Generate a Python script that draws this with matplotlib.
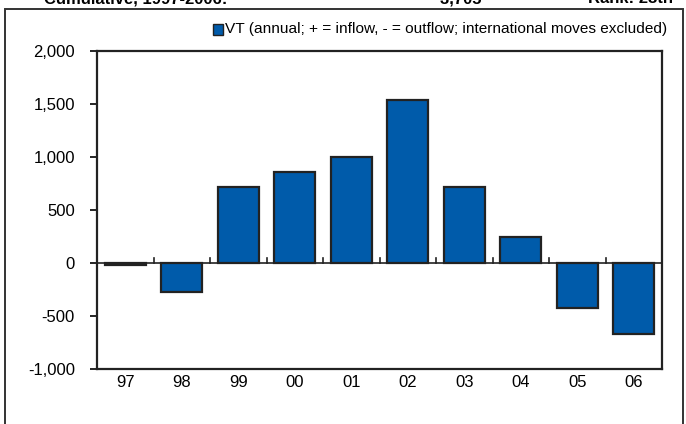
import matplotlib
matplotlib.use("Agg")
import matplotlib.pyplot as plt
from matplotlib.patches import Rectangle

plt.rcParams['font.family'] = ['Liberation Sans', 'DejaVu Sans']

## data
years = ['97', '98', '99', '00', '01', '02', '03', '04', '05', '06']
flows = [-20, -275, 717, 858, 1000, 1535, 720, 245, -427, -670]
yticks = [-1000, -500, 0, 500, 1000, 1500, 2000]
label = 'VT (annual; + = inflow, - = outflow; international moves excluded)'

fig = plt.figure(figsize=(6.86, 4.24), dpi=100)
ax = fig.add_axes([97/686, 1-369/424, (662-97)/686, (369-51)/424])

xs = list(range(len(years)))
ax.bar(xs, flows, width=0.72, color='#005BAA', edgecolor='#222222', linewidth=1.6, zorder=3)

ax.set_xlim(-0.5, len(years)-0.5)
ax.set_ylim(-1000, 2000)
ax.set_yticks(yticks)
ax.set_yticklabels([f'{v:,}' for v in yticks], fontsize=12)
ax.tick_params(axis='y', direction='out', length=5, width=1.2, pad=11)

# category labels sit below the box, ticks at category borders on zero line
ax.set_xticks([])
for i, yr in enumerate(years):
    ax.text(i, -1130, yr, ha='center', va='center', fontsize=12)
ax.axhline(0, color='#222222', linewidth=1.2, zorder=4)
for b in range(1, len(years)):
    ax.plot([b-0.5, b-0.5], [0, 45], color='#222222', linewidth=1.2, zorder=4)

for s in ax.spines.values():
    s.set_linewidth(1.6)
    s.set_color('#222222')

# legend line above plot
fig.patches.append(Rectangle((213/686, 1-35/424), 10/686, 11/424, transform=fig.transFigure,
                             facecolor='#005BAA', edgecolor='#222222', linewidth=1.0))
fig.text(225/686, 1-29/424, label, fontsize=11.1, va='center', ha='left')

# outer frame
fig.patches.append(Rectangle((5/686, -0.05), 678/686, 1.05-9/424, transform=fig.transFigure,
                             fill=False, edgecolor='#333333', linewidth=1.4))

# header, mostly cut off at the top edge (as in the source)
fig.text(44/686, 1-3/424, 'Cumulative, 1997-2006:', fontsize=12, fontweight='bold', va='baseline')
fig.text(440/686, 1-3/424, '3,705 \u2014', fontsize=12, fontweight='bold', va='baseline')
fig.text(588/686, 1-3/424, 'Rank: 28th', fontsize=12, fontweight='bold', va='baseline')

fig.savefig('out.png', dpi=100)
